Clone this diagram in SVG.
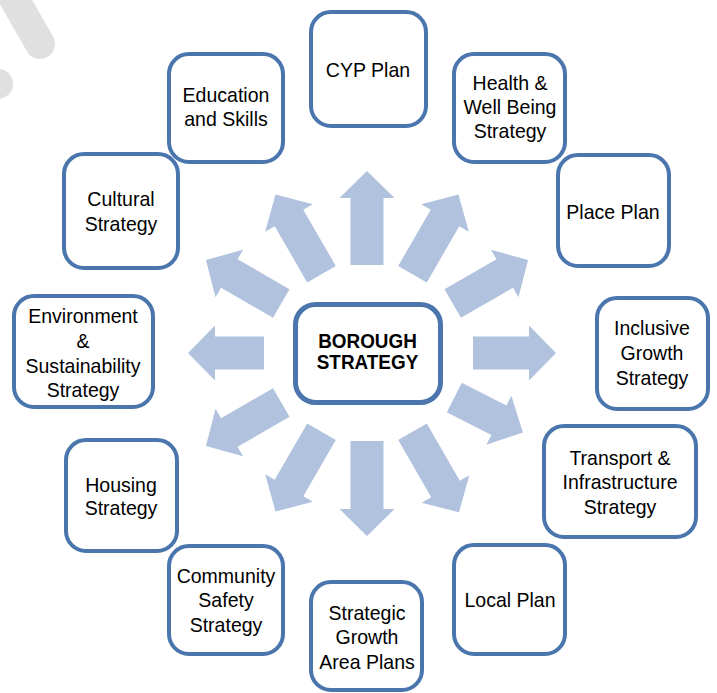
<svg xmlns="http://www.w3.org/2000/svg" width="717" height="693" viewBox="0 0 717 693">
<style>
.box{fill:#ffffff;stroke:#4a76ad;stroke-width:4}
.cbox{fill:#ffffff;stroke:#4a76ad;stroke-width:5}
.arr{fill:#b0c2de}
.t{font-family:"Liberation Sans",Arial,sans-serif;font-size:21px;fill:#000000;text-anchor:middle}
.tb{font-family:"Liberation Sans",Arial,sans-serif;font-size:21px;font-weight:bold;fill:#000000;text-anchor:middle}
.wm{fill:none;stroke:#e0e0e0;stroke-width:30;stroke-linecap:round}
</style>
<rect width="717" height="693" fill="#ffffff"/>
<g id="watermark">
<line class="wm" x1="8" y1="-12" x2="40" y2="44"/>
<line class="wm" x1="-25" y1="84" x2="-2" y2="84"/>
</g>
<g id="connectors">
<polygon class="arr" transform="translate(367,353) rotate(-90)" points="88,-16.5 155,-16.5 155,-27.5 182,0 155,27.5 155,16.5 88,16.5"/>
<polygon class="arr" transform="translate(367,353) rotate(90)" points="88,-16.5 156,-16.5 156,-27.5 183,0 156,27.5 156,16.5 88,16.5"/>
<polygon class="arr" transform="translate(367,353) rotate(0)" points="106,-16.5 162,-16.5 162,-27.5 189,0 162,27.5 162,16.5 106,16.5"/>
<polygon class="arr" transform="translate(367,353) rotate(180)" points="103,-16.5 152,-16.5 152,-27.5 179,0 152,27.5 152,16.5 103,16.5"/>
<polygon class="arr" transform="translate(367,353) rotate(-60)" points="91,-16.5 156,-16.5 156,-27.5 183,0 156,27.5 156,16.5 91,16.5"/>
<polygon class="arr" transform="translate(367,353) rotate(-30)" points="99,-16.5 159,-16.5 159,-27.5 186,0 159,27.5 159,16.5 99,16.5"/>
<polygon class="arr" transform="translate(367,353) rotate(-120)" points="91,-16.5 156,-16.5 156,-27.5 183,0 156,27.5 156,16.5 91,16.5"/>
<polygon class="arr" transform="translate(367,353) rotate(-150)" points="99,-16.5 159,-16.5 159,-27.5 186,0 159,27.5 159,16.5 99,16.5"/>
<polygon class="arr" transform="translate(367,353) rotate(150)" points="99,-16.5 159,-16.5 159,-27.5 186,0 159,27.5 159,16.5 99,16.5"/>
<polygon class="arr" transform="translate(367,353) rotate(120)" points="91,-16.5 156,-16.5 156,-27.5 183,0 156,27.5 156,16.5 91,16.5"/>
<polygon class="arr" transform="translate(367,353) rotate(27)" points="98,-16.5 148,-16.5 148,-27.5 175,0 148,27.5 148,16.5 98,16.5"/>
<polygon class="arr" transform="translate(367,353) rotate(60)" points="91,-16.5 157,-16.5 157,-27.5 184,0 157,27.5 157,16.5 91,16.5"/>
</g>
<g id="borough">
<rect class="cbox" x="295.5" y="304.5" width="145" height="98" rx="20"/>
<text class="tb" transform="translate(367.5,0) scale(0.9,1)"><tspan x="0" y="348">BOROUGH</tspan><tspan x="0" y="369">STRATEGY</tspan></text>
</g>
<g id="cyp">
<rect class="box" x="311" y="12" width="115" height="114" rx="20"/>
<text class="t" transform="translate(368,0) scale(0.93,1)"><tspan x="0" y="77.5">CYP Plan</tspan></text>
</g>
<g id="health">
<rect class="box" x="454" y="54" width="111" height="108" rx="20"/>
<text class="t" transform="translate(510,0) scale(0.93,1)"><tspan x="0" y="90.5">Health &amp;</tspan><tspan x="0" y="114.5">Well Being</tspan><tspan x="0" y="138.5">Strategy</tspan></text>
</g>
<g id="place">
<rect class="box" x="558" y="155" width="111" height="111" rx="20"/>
<text class="t" transform="translate(613,0) scale(0.93,1)"><tspan x="0" y="219.5">Place Plan</tspan></text>
</g>
<g id="inclusive">
<rect class="box" x="597" y="298" width="111" height="111" rx="20"/>
<text class="t" transform="translate(652,0) scale(0.93,1)"><tspan x="0" y="335.5">Inclusive</tspan><tspan x="0" y="360.5">Growth</tspan><tspan x="0" y="385.5">Strategy</tspan></text>
</g>
<g id="transport">
<rect class="box" x="544" y="426" width="152" height="111" rx="20"/>
<text class="t" transform="translate(620,0) scale(0.93,1)"><tspan x="0" y="465.5">Transport &amp;</tspan><tspan x="0" y="489.5">Infrastructure</tspan><tspan x="0" y="514.5">Strategy</tspan></text>
</g>
<g id="local">
<rect class="box" x="454" y="545" width="111" height="109" rx="20"/>
<text class="t" transform="translate(510,0) scale(0.93,1)"><tspan x="0" y="607.5">Local Plan</tspan></text>
</g>
<g id="strategic">
<rect class="box" x="311" y="582" width="111" height="108" rx="20"/>
<text class="t" transform="translate(367,0) scale(0.93,1)"><tspan x="0" y="620.5">Strategic</tspan><tspan x="0" y="644.5">Growth</tspan><tspan x="0" y="669.5">Area Plans</tspan></text>
</g>
<g id="community">
<rect class="box" x="169" y="546" width="114" height="108" rx="20"/>
<text class="t" transform="translate(226,0) scale(0.93,1)"><tspan x="0" y="583.5">Community</tspan><tspan x="0" y="607.5">Safety</tspan><tspan x="0" y="632.5">Strategy</tspan></text>
</g>
<g id="housing">
<rect class="box" x="66" y="440" width="111" height="111" rx="20"/>
<text class="t" transform="translate(121,0) scale(0.93,1)"><tspan x="0" y="491.5">Housing</tspan><tspan x="0" y="515.5">Strategy</tspan></text>
</g>
<g id="environment">
<rect class="box" x="14" y="296" width="139" height="111" rx="20"/>
<text class="t" transform="translate(83,0) scale(0.93,1)"><tspan x="0" y="323.5">Environment</tspan><tspan x="0" y="348.5">&amp;</tspan><tspan x="0" y="373.5">Sustainability</tspan><tspan x="0" y="397.5">Strategy</tspan></text>
</g>
<g id="cultural">
<rect class="box" x="64" y="154" width="114" height="114" rx="20"/>
<text class="t" transform="translate(121,0) scale(0.93,1)"><tspan x="0" y="206.5">Cultural</tspan><tspan x="0" y="231.5">Strategy</tspan></text>
</g>
<g id="education">
<rect class="box" x="169" y="54" width="114" height="108" rx="20"/>
<text class="t" transform="translate(226,0) scale(0.93,1)"><tspan x="0" y="102.5">Education</tspan><tspan x="0" y="126.5">and Skills</tspan></text>
</g>
</svg>
